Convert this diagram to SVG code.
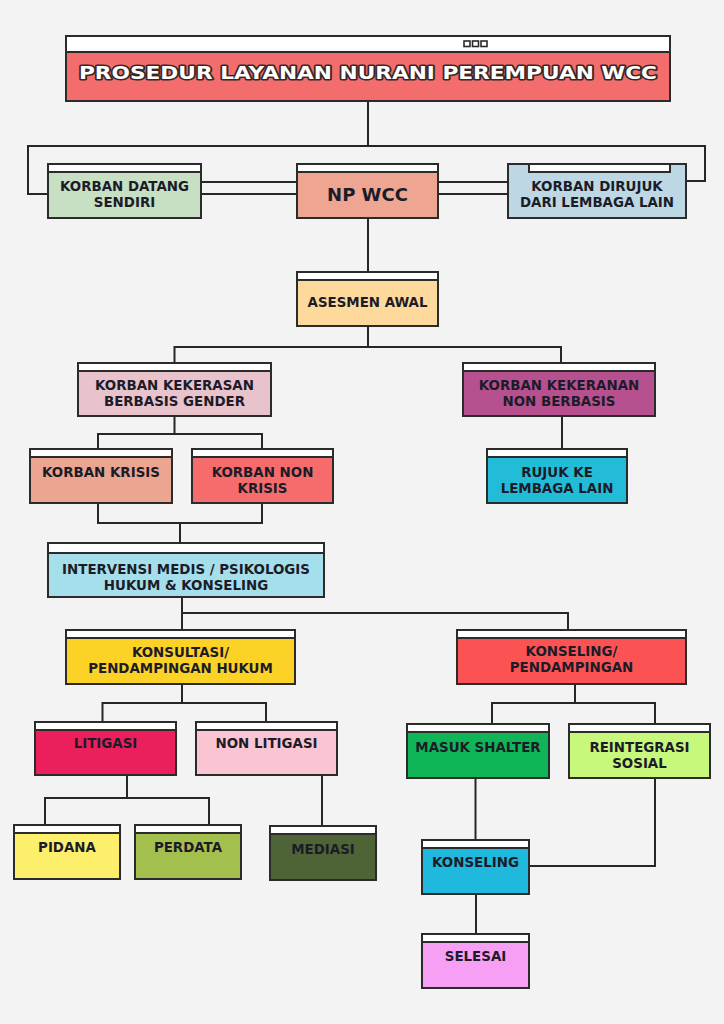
<svg xmlns="http://www.w3.org/2000/svg" width="724" height="1024" viewBox="0 0 724 1024">
<style>
.box{stroke:#2b2b2b;stroke-width:2}
.strip{fill:#ffffff;stroke:#2b2b2b;stroke-width:2}
.t{font-family:"DejaVu Sans","Liberation Sans",sans-serif;font-weight:700;font-size:13.4px;fill:#1c1c28;text-anchor:middle}
.conn path{fill:none;stroke:#262626;stroke-width:2}
</style>
<rect x="0" y="0" width="724" height="1024" fill="#f3f3f3"/>
<g id="connectors" class="conn">
<path d="M368 101 V147"/>
<path d="M48 194 H28 V146 H705 V181 H686"/>
<path d="M201 182 H297 M201 194 H297 M438 182 H508 M438 194 H508"/>
<path d="M368 218 V272"/>
<path d="M368 326 V347 M174.5 363 V347 H561 V363"/>
<path d="M174.5 416 V434 M98 449 V434 H262 V449"/>
<path d="M562 416 V449"/>
<path d="M98 503 V523 H262 V503 M180 523 V543"/>
<path d="M182 597 V630 M182 613 H568 V630"/>
<path d="M182 684 V703 M102.5 722 V703 H266 V722"/>
<path d="M575 684 V703 M492 724 V703 H655 V724"/>
<path d="M127 775 V798 M45 825 V798 H209 V825"/>
<path d="M322 775 V826"/>
<path d="M475.5 778 V840"/>
<path d="M655 778 V866 H529"/>
<path d="M476 894 V934"/>
</g>
<g id="title">
<rect class="box" x="66" y="36" width="604" height="65" fill="#f36d6c"/>
<rect class="strip" x="66" y="36" width="604" height="16"/>
<rect x="464" y="41" width="6" height="5.5" fill="#ffffff" stroke="#2b2b2b" stroke-width="1.6"/>
<rect x="472.5" y="41" width="6" height="5.5" fill="#ffffff" stroke="#2b2b2b" stroke-width="1.6"/>
<rect x="481" y="41" width="6" height="5.5" fill="#ffffff" stroke="#2b2b2b" stroke-width="1.6"/>
<text x="368" y="79" font-family="'DejaVu Sans','Liberation Sans',sans-serif" font-weight="700" font-size="17" fill="#ffffff" stroke="#3a2626" stroke-width="3" paint-order="stroke" stroke-linejoin="round" text-anchor="middle" textLength="578" lengthAdjust="spacingAndGlyphs">PROSEDUR LAYANAN NURANI PEREMPUAN WCC</text>
</g>
<g id="korban-datang">
<rect class="box" x="48" y="164" width="153" height="54" fill="#c7dfc3"/>
<rect class="strip" x="48" y="164" width="153" height="8"/>
<text class="t" x="124.5" y="190.7">KORBAN DATANG</text>
<text class="t" x="124.5" y="207">SENDIRI</text>
</g>
<g id="np-wcc">
<rect class="box" x="297" y="164" width="141" height="54" fill="#eea693"/>
<rect class="strip" x="297" y="164" width="141" height="8"/>
<text class="t" x="367.5" y="201" style="font-size:18px">NP WCC</text>
</g>
<g id="korban-dirujuk">
<rect class="box" x="508" y="164" width="178" height="54" fill="#bdd8e4"/>
<rect class="strip" x="529" y="164" width="141" height="8"/>
<text class="t" x="597" y="190.7">KORBAN DIRUJUK</text>
<text class="t" x="597" y="207">DARI LEMBAGA LAIN</text>
</g>
<g id="asesmen-awal">
<rect class="box" x="297" y="272" width="141" height="54" fill="#fdd99b"/>
<rect class="strip" x="297" y="272" width="141" height="8"/>
<text class="t" x="367.5" y="307">ASESMEN AWAL</text>
</g>
<g id="korban-kekerasan">
<rect class="box" x="78" y="363" width="193" height="53" fill="#e9c3cb"/>
<rect class="strip" x="78" y="363" width="193" height="8"/>
<text class="t" x="174.5" y="390">KORBAN KEKERASAN</text>
<text class="t" x="174.5" y="406">BERBASIS GENDER</text>
</g>
<g id="korban-kekeranan">
<rect class="box" x="463" y="363" width="192" height="53" fill="#b7508e"/>
<rect class="strip" x="463" y="363" width="192" height="8"/>
<text class="t" x="559" y="390">KORBAN KEKERANAN</text>
<text class="t" x="559" y="406">NON BERBASIS</text>
</g>
<g id="korban-krisis">
<rect class="box" x="30" y="449" width="142" height="54" fill="#eca590"/>
<rect class="strip" x="30" y="449" width="142" height="8"/>
<text class="t" x="101" y="477">KORBAN KRISIS</text>
</g>
<g id="korban-non-krisis">
<rect class="box" x="192" y="449" width="141" height="54" fill="#f66c6c"/>
<rect class="strip" x="192" y="449" width="141" height="8"/>
<text class="t" x="262.5" y="477">KORBAN NON</text>
<text class="t" x="262.5" y="493">KRISIS</text>
</g>
<g id="rujuk-ke-lembaga">
<rect class="box" x="487" y="449" width="140" height="54" fill="#22bcd9"/>
<rect class="strip" x="487" y="449" width="140" height="8"/>
<text class="t" x="557" y="477">RUJUK KE</text>
<text class="t" x="557" y="493">LEMBAGA LAIN</text>
</g>
<g id="intervensi">
<rect class="box" x="48" y="543" width="276" height="54" fill="#a5dfec"/>
<rect class="strip" x="48" y="543" width="276" height="10"/>
<text class="t" x="186" y="573.5">INTERVENSI MEDIS / PSIKOLOGIS</text>
<text class="t" x="186" y="590">HUKUM &amp; KONSELING</text>
</g>
<g id="konsultasi">
<rect class="box" x="66" y="630" width="229" height="54" fill="#fdd226"/>
<rect class="strip" x="66" y="630" width="229" height="8"/>
<text class="t" x="180.5" y="657">KONSULTASI/</text>
<text class="t" x="180.5" y="673">PENDAMPINGAN HUKUM</text>
</g>
<g id="konseling-pendampingan">
<rect class="box" x="457" y="630" width="229" height="54" fill="#fb5353"/>
<rect class="strip" x="457" y="630" width="229" height="8"/>
<text class="t" x="571.5" y="656">KONSELING/</text>
<text class="t" x="571.5" y="672">PENDAMPINGAN</text>
</g>
<g id="litigasi">
<rect class="box" x="35" y="722" width="141" height="53" fill="#eb1f5b"/>
<rect class="strip" x="35" y="722" width="141" height="8"/>
<text class="t" x="105.5" y="748">LITIGASI</text>
</g>
<g id="non-litigasi">
<rect class="box" x="196" y="722" width="141" height="53" fill="#fbc4d3"/>
<rect class="strip" x="196" y="722" width="141" height="8"/>
<text class="t" x="266.5" y="748">NON LITIGASI</text>
</g>
<g id="masuk-shalter">
<rect class="box" x="407" y="724" width="142" height="54" fill="#10b557"/>
<rect class="strip" x="407" y="724" width="142" height="8"/>
<text class="t" x="478" y="752">MASUK SHALTER</text>
</g>
<g id="reintegrasi-sosial">
<rect class="box" x="569" y="724" width="141" height="54" fill="#c7f77b"/>
<rect class="strip" x="569" y="724" width="141" height="8"/>
<text class="t" x="639.5" y="752">REINTEGRASI</text>
<text class="t" x="639.5" y="768">SOSIAL</text>
</g>
<g id="pidana">
<rect class="box" x="14" y="825" width="106" height="54" fill="#fdef6b"/>
<rect class="strip" x="14" y="825" width="106" height="8"/>
<text class="t" x="67" y="852">PIDANA</text>
</g>
<g id="perdata">
<rect class="box" x="135" y="825" width="106" height="54" fill="#a3bf4e"/>
<rect class="strip" x="135" y="825" width="106" height="8"/>
<text class="t" x="188" y="852">PERDATA</text>
</g>
<g id="mediasi">
<rect class="box" x="270" y="826" width="106" height="54" fill="#4e6437"/>
<rect class="strip" x="270" y="826" width="106" height="8"/>
<text class="t" x="323" y="854">MEDIASI</text>
</g>
<g id="konseling">
<rect class="box" x="422" y="840" width="107" height="54" fill="#1fb9de"/>
<rect class="strip" x="422" y="840" width="107" height="8"/>
<text class="t" x="475.5" y="867">KONSELING</text>
</g>
<g id="selesai">
<rect class="box" x="422" y="934" width="107" height="54" fill="#f79ff5"/>
<rect class="strip" x="422" y="934" width="107" height="8"/>
<text class="t" x="475.5" y="961">SELESAI</text>
</g>
</svg>
